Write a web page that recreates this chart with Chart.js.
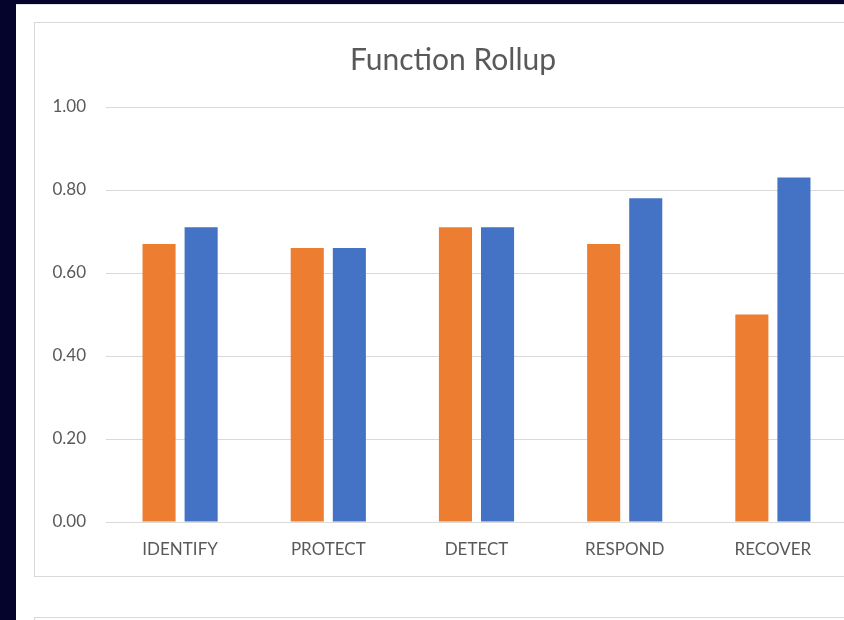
<!DOCTYPE html>
<html>
<head>
<meta charset="utf-8">
<title>Function Rollup</title>
<script src="https://cdn.jsdelivr.net/npm/chart.js@4/dist/chart.umd.min.js"></script>
<style>
  html, body { margin: 0; padding: 0; }
  body {
    width: 844px; height: 620px; overflow: hidden;
    background: #04042c; position: relative;
  }
  #sheet {
    position: absolute; left: 16px; top: 4px; right: 0; bottom: 0;
    background: #ffffff; border-top: 1px solid #dfe3ea;
  }
  .panel {
    position: absolute; left: 34px; width: 838px;
    box-sizing: border-box; border: 1px solid #d9d9d9; background: #ffffff;
  }
  #rollup { top: 22px; height: 555px; }
  #next { top: 617px; height: 120px; }
  #rollup canvas { display: block; }
</style>
</head>
<body>
<div id="sheet"></div>
<div class="panel" id="rollup"><canvas id="chart"></canvas></div>
<div class="panel" id="next"></div>
<script>
// Function scores per category
const categories = ['IDENTIFY', 'PROTECT', 'DETECT', 'RESPOND', 'RECOVER'];
const currentScores = [0.67, 0.66, 0.71, 0.67, 0.50];
const targetScores = [0.71, 0.66, 0.71, 0.78, 0.83];
const yTicks = [0.00, 0.20, 0.40, 0.60, 0.80, 1.00];

const ORANGE = '#ed7d31';
const BLUE = '#4472c4';
const TEXT = '#595959';
const GRID = '#d9d9d9';
const FONT = 'Lato, "Open Sans", sans-serif';

new Chart(document.getElementById('chart'), {
  type: 'bar',
  data: {
    labels: categories,
    datasets: [
      { label: 'Current', data: currentScores, backgroundColor: ORANGE,
        categoryPercentage: 0.568, barPercentage: 0.786 },
      { label: 'Target', data: targetScores, backgroundColor: BLUE,
        categoryPercentage: 0.568, barPercentage: 0.786 }
    ]
  },
  options: {
    responsive: true,
    maintainAspectRatio: false,
    animation: false,
    layout: { padding: { left: 0, right: 0, top: 0, bottom: 14 } },
    plugins: {
      legend: { display: false },
      tooltip: { enabled: false },
      title: {
        display: true,
        text: 'Function Rollup',
        color: TEXT,
        font: { family: FONT, size: 30, weight: 'normal', lineHeight: 1.2 },
        padding: { top: 19, bottom: 29 }
      }
    },
    scales: {
      x: {
        grid: { display: false, drawTicks: false },
        border: { display: false },
        ticks: {
          color: TEXT, padding: 17,
          font: { family: FONT, size: 17, lineHeight: 1.2 }
        },
        afterFit: (s) => { s.height = 40; }
      },
      y: {
        min: yTicks[0],
        max: yTicks[yTicks.length - 1],
        afterBuildTicks: (s) => { s.ticks = yTicks.map(v => ({ value: v })); },
        grid: { color: GRID, lineWidth: 1, drawTicks: false },
        border: { display: false },
        ticks: {
          color: TEXT, padding: 20,
          font: { family: FONT, size: 17 },
          callback: (v) => Number(v).toFixed(2)
        },
        afterFit: (s) => { s.width = 71; }
      },
      // empty right-hand margin of the plot area, kept as a blank side box
      margin: {
        type: 'linear',
        position: 'right',
        display: true,
        grid: { display: false, drawTicks: false },
        border: { display: false },
        ticks: { display: false },
        afterFit: (s) => { s.width = 24; }
      }
    }
  }
});
</script>
</body>
</html>
